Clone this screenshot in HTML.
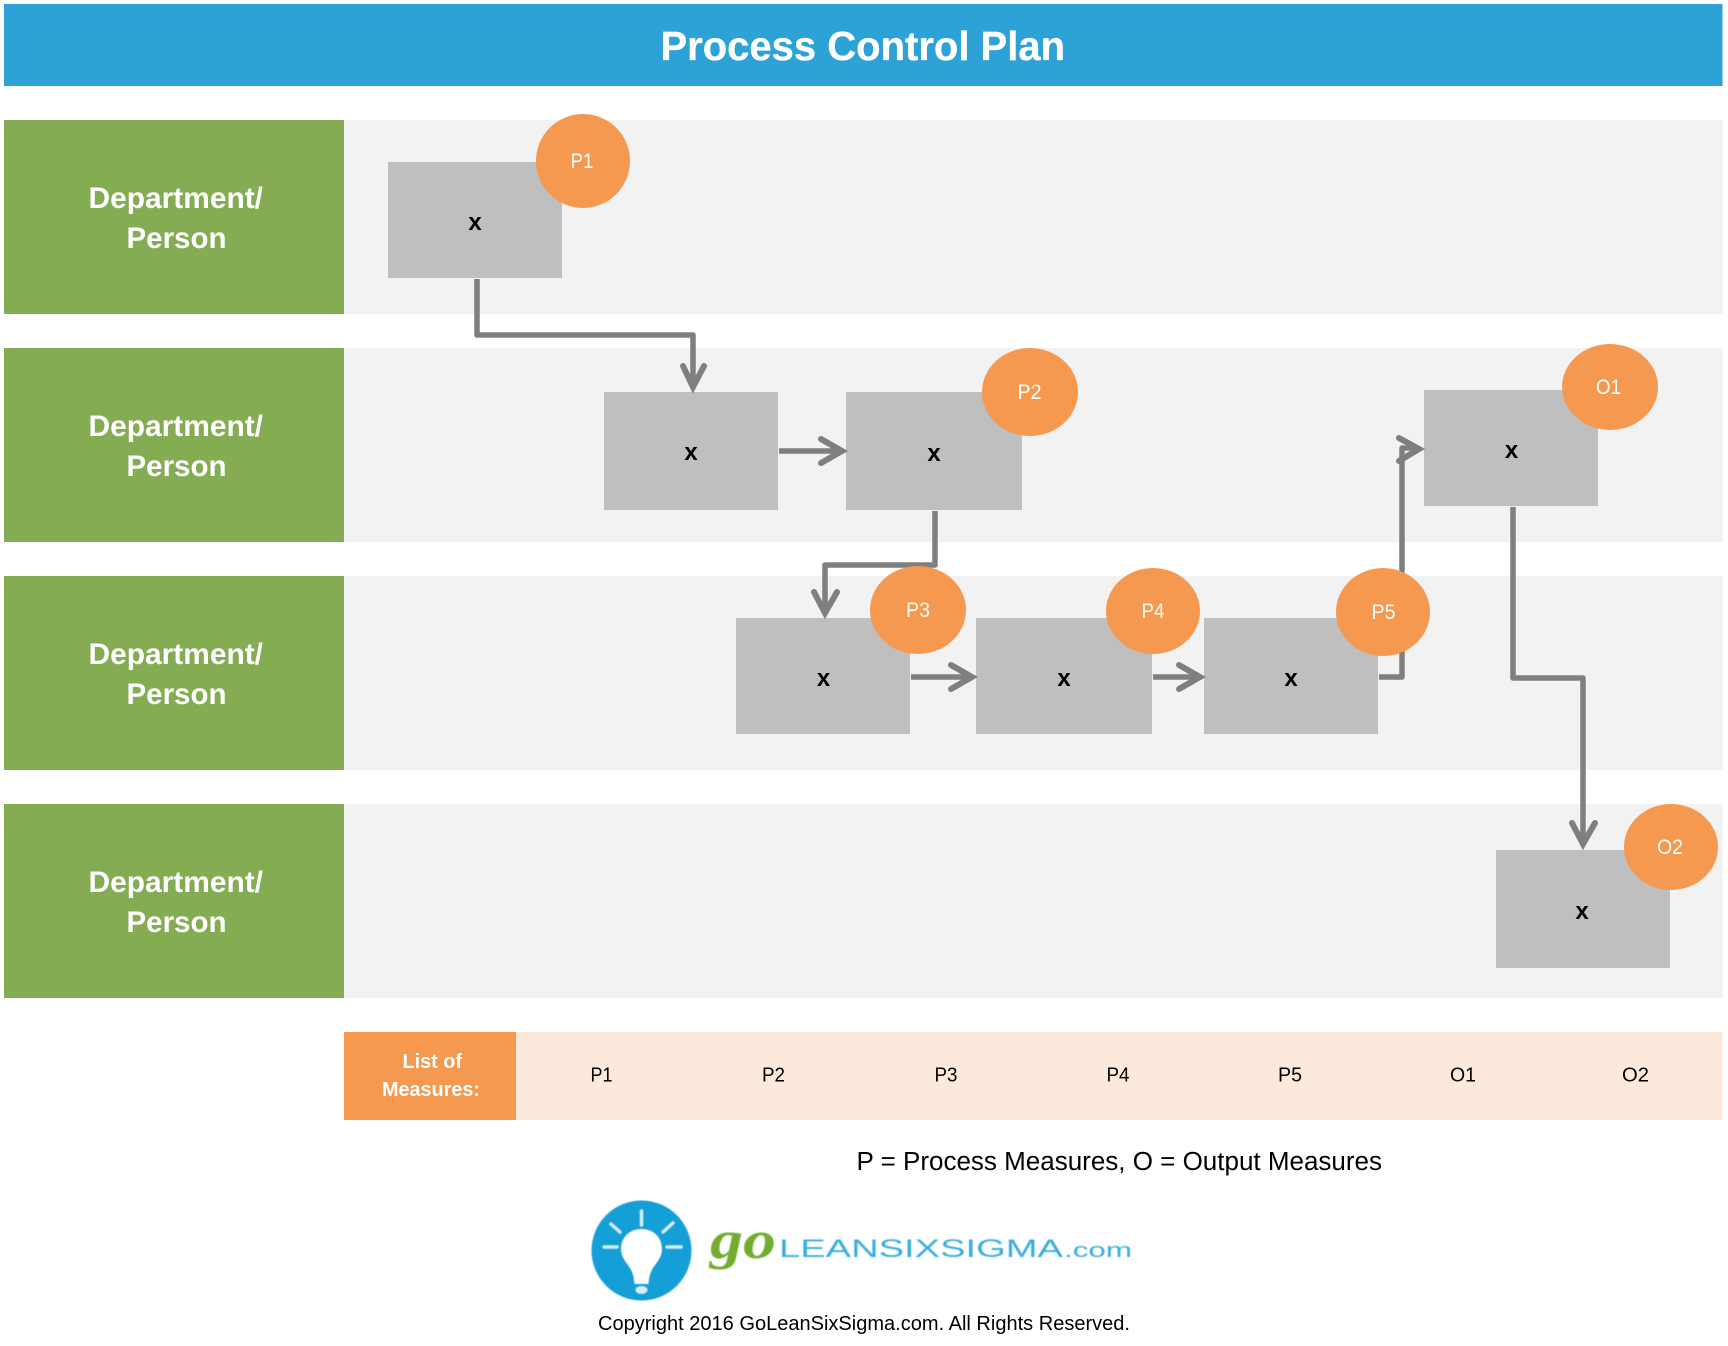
<!DOCTYPE html>
<html lang="en">
<head>
<meta charset="utf-8">
<title>Process Control Plan</title>
<style>
html,body{margin:0;padding:0;background:#fff;width:1728px;height:1346px;overflow:hidden}
svg{display:block}
text{font-family:"Liberation Sans",sans-serif}
.b{font-weight:bold}
.d{font-weight:bold;font-size:30px;fill:#fff}
.x{font-weight:bold;font-size:24px;fill:#000;text-anchor:middle}
.c{font-size:21px;fill:#fff}
.m{font-size:20px;fill:#000}
.k{fill:none;stroke:#7f7f7f;stroke-width:5.5;stroke-linejoin:round}
.h{fill:none;stroke:#7f7f7f;stroke-width:6;stroke-linecap:round;stroke-linejoin:miter}
.logo{filter:blur(0.6px)}
</style>
</head>
<body>
<svg width="1728" height="1346" viewBox="0 0 1728 1346" xmlns="http://www.w3.org/2000/svg">
<rect width="1728" height="1346" fill="#fff"/>
<rect x="4" y="4" width="1718.500" height="82" fill="#2da2d6"/>
<text x="660.500" y="60" class="b" font-size="40.500" fill="#fff" stroke="#fff" stroke-width="0.300" textLength="404.500" lengthAdjust="spacingAndGlyphs">Process Control Plan</text>

<!-- Lanes -->
<rect x="344" y="120" width="1378.500" height="194" fill="#f2f2f2"/>
<rect x="344" y="348" width="1378.500" height="194" fill="#f2f2f2"/>
<rect x="344" y="576" width="1378.500" height="194" fill="#f2f2f2"/>
<rect x="344" y="804" width="1378.500" height="194" fill="#f2f2f2"/>
<rect x="4" y="120" width="340" height="194" fill="#84ac52"/>
<rect x="4" y="348" width="340" height="194" fill="#84ac52"/>
<rect x="4" y="576" width="340" height="194" fill="#84ac52"/>
<rect x="4" y="804" width="340" height="194" fill="#84ac52"/>
<text class="d" x="88.500" y="208" textLength="174.500" lengthAdjust="spacingAndGlyphs">Department/</text>
<text class="d" x="126.500" y="248" textLength="100" lengthAdjust="spacingAndGlyphs">Person</text>
<text class="d" x="88.500" y="436" textLength="174.500" lengthAdjust="spacingAndGlyphs">Department/</text>
<text class="d" x="126.500" y="476" textLength="100" lengthAdjust="spacingAndGlyphs">Person</text>
<text class="d" x="88.500" y="664" textLength="174.500" lengthAdjust="spacingAndGlyphs">Department/</text>
<text class="d" x="126.500" y="704" textLength="100" lengthAdjust="spacingAndGlyphs">Person</text>
<text class="d" x="88.500" y="892" textLength="174.500" lengthAdjust="spacingAndGlyphs">Department/</text>
<text class="d" x="126.500" y="932" textLength="100" lengthAdjust="spacingAndGlyphs">Person</text>

<!-- Boxes -->
<g fill="#bfbfbf">
<rect x="388" y="162" width="174" height="116"/>
<rect x="604" y="392" width="174" height="118"/>
<rect x="846" y="392" width="176" height="118"/>
<rect x="736" y="618" width="174" height="116"/>
<rect x="976" y="618" width="176" height="116"/>
<rect x="1204" y="618" width="174" height="116"/>
<rect x="1424" y="390" width="174" height="116"/>
<rect x="1496" y="850" width="174" height="118"/>
</g>
<text class="x" x="475" y="230">x</text>
<text class="x" x="691" y="460">x</text>
<text class="x" x="934" y="461">x</text>
<text class="x" x="823.500" y="686">x</text>
<text class="x" x="1064" y="686">x</text>
<text class="x" x="1291" y="686">x</text>
<text class="x" x="1511.500" y="458">x</text>
<text class="x" x="1582" y="919">x</text>

<!-- Connectors -->
<path class="k" d="M477 279V335H693V385"/>
<path class="h" d="M683 366L693 387L704 366"/>
<path class="k" d="M779 451H840"/>
<path class="h" d="M821 439L842 451L821 463"/>
<path class="k" d="M935 511V565H825V611"/>
<path class="h" d="M814 592L825 613L837 592"/>
<path class="k" d="M911 677H970"/>
<path class="h" d="M951 665L972 677L951 689"/>
<path class="k" d="M1153 677H1198"/>
<path class="h" d="M1179 665L1200 677L1179 689"/>
<path class="k" d="M1379 677H1402V448H1417"/>
<path class="h" d="M1399 438L1419 449L1399 461"/>
<path class="k" d="M1513 507V678H1583V842"/>
<path class="h" d="M1572 823L1583 844L1595 823"/>

<!-- Circles -->
<g fill="#f59850">
<ellipse cx="583" cy="161" rx="47" ry="47"/>
<ellipse cx="1030" cy="392" rx="48" ry="44"/>
<ellipse cx="918" cy="610" rx="48" ry="44"/>
<ellipse cx="1153" cy="611" rx="47" ry="43"/>
<ellipse cx="1383" cy="612" rx="47" ry="44"/>
<ellipse cx="1610" cy="387" rx="48" ry="43"/>
<ellipse cx="1671" cy="847" rx="47" ry="43"/>
</g>
<text class="c" x="570.500" y="168" textLength="23" lengthAdjust="spacingAndGlyphs">P1</text>
<text class="c" x="1017.500" y="399" textLength="24" lengthAdjust="spacingAndGlyphs">P2</text>
<text class="c" x="906" y="617" textLength="24" lengthAdjust="spacingAndGlyphs">P3</text>
<text class="c" x="1141.500" y="618" textLength="23" lengthAdjust="spacingAndGlyphs">P4</text>
<text class="c" x="1371.500" y="619" textLength="24" lengthAdjust="spacingAndGlyphs">P5</text>
<text class="c" x="1596" y="394" textLength="25" lengthAdjust="spacingAndGlyphs">O1</text>
<text class="c" x="1657" y="854" textLength="26" lengthAdjust="spacingAndGlyphs">O2</text>

<!-- Measures -->
<rect x="516" y="1032" width="1206.500" height="88" fill="#fce9db"/>
<rect x="344" y="1032" width="172" height="88" fill="#f59850"/>
<text x="402.500" y="1068" class="b" font-size="20" fill="#fff" textLength="59.500" lengthAdjust="spacingAndGlyphs">List of</text>
<text x="382" y="1096" class="b" font-size="20" fill="#fff" textLength="98" lengthAdjust="spacingAndGlyphs">Measures:</text>
<text class="m" x="590.500" y="1081.500" textLength="22" lengthAdjust="spacingAndGlyphs">P1</text>
<text class="m" x="762" y="1081.500" textLength="23" lengthAdjust="spacingAndGlyphs">P2</text>
<text class="m" x="934.500" y="1081.500" textLength="23" lengthAdjust="spacingAndGlyphs">P3</text>
<text class="m" x="1106.500" y="1081.500" textLength="23" lengthAdjust="spacingAndGlyphs">P4</text>
<text class="m" x="1278" y="1081.500" textLength="24" lengthAdjust="spacingAndGlyphs">P5</text>
<text class="m" x="1450" y="1081.500" textLength="26" lengthAdjust="spacingAndGlyphs">O1</text>
<text class="m" x="1622" y="1081.500" textLength="27" lengthAdjust="spacingAndGlyphs">O2</text>

<text x="856.500" y="1170" font-size="25.500" fill="#000" textLength="525.500" lengthAdjust="spacingAndGlyphs">P = Process Measures, O = Output Measures</text>

<!-- Logo -->
<g class="logo">
<ellipse cx="641.500" cy="1250.500" rx="50" ry="50" fill="#159fd7"/>
<path d="M641.500 1229C629 1229 621 1238 621 1249C621 1257 626 1262 630 1268C633 1273 634 1278 634.500 1284H648.500C649 1278 650 1273 653 1268C657 1262 662 1257 662 1249C662 1238 654 1229 641.500 1229Z" fill="#fff"/>
<ellipse cx="641.500" cy="1290" rx="6" ry="4" fill="#d8eef8"/>
<g stroke="#d8eef8" stroke-width="3.500" stroke-linecap="round" fill="none">
<path d="M641.500 1211V1225"/>
<path d="M611 1224L620 1232"/>
<path d="M673 1223L663 1232"/>
<path d="M604 1247H617"/>
<path d="M667 1247H681"/>
</g>
<text x="710" y="1258" style="font-family:'Liberation Serif',serif" font-style="italic" font-weight="bold" font-size="54" fill="#72ad2f" textLength="66" lengthAdjust="spacingAndGlyphs">go</text>
<text x="779" y="1257" font-size="25" fill="#3aaedd" textLength="284" lengthAdjust="spacingAndGlyphs">LEANSIXSIGMA</text>
<text x="1064" y="1257" font-size="20" fill="#3aaedd" textLength="68" lengthAdjust="spacingAndGlyphs">.com</text>
</g>

<text x="598" y="1330" font-size="20" fill="#000" textLength="532" lengthAdjust="spacingAndGlyphs">Copyright 2016 GoLeanSixSigma.com. All Rights Reserved.</text>
</svg>
</body>
</html>
